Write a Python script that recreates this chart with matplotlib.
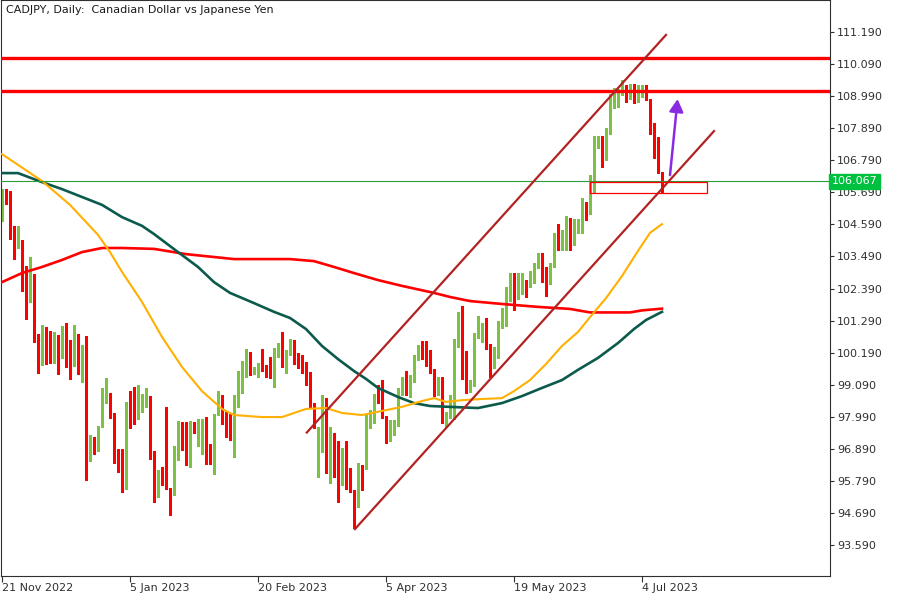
import matplotlib
matplotlib.use("Agg")
import matplotlib.pyplot as plt
from matplotlib.patches import Rectangle
import numpy as np

TITLE = "CADJPY, Daily:  Canadian Dollar vs Japanese Yen"

# daily candles, bar 0 = 21 Nov 2022
OPEN = [
    104.74, 105.65, 105.56, 104.49, 103.88, 103.91, 102.91, 102.09, 102.86, 100.76,
    99.80, 100.62, 100.34, 100.03, 100.49, 100.17, 100.93, 100.05, 99.94, 100.80,
    99.33, 100.28, 96.70, 97.27, 96.85, 97.70, 98.65, 98.77, 98.09, 96.43,
    96.19, 95.80, 98.39, 98.30, 97.96, 98.43, 98.43, 98.68, 96.76, 95.40,
    95.86, 95.69, 95.52, 95.35, 96.68, 97.74, 97.40, 96.71, 97.74, 97.37,
    97.40, 97.74, 97.02, 96.62, 98.09, 98.62, 97.79, 97.74, 97.74, 98.36,
    99.25, 99.77, 100.17, 99.50, 99.54, 99.79, 99.73, 99.56, 99.39, 100.26,
    100.31, 99.79, 100.14, 100.60, 99.99, 99.82, 99.71, 99.50, 98.43, 96.80,
    96.96, 98.22, 96.79, 97.33, 96.13, 96.02, 96.62, 95.73, 95.45, 94.91,
    96.30, 96.23, 97.97, 97.97, 98.77, 98.54, 97.99, 97.54, 97.65, 97.71,
    98.88, 99.28, 99.04, 99.37, 99.99, 100.40, 100.11, 100.11, 99.60, 98.91,
    99.12, 97.99, 97.99, 98.60, 100.45, 101.48, 100.22, 98.91, 99.08, 100.72,
    100.99, 101.03, 100.48, 99.73, 100.06, 101.08, 101.14, 102.28, 102.71, 102.09,
    102.57, 102.62, 102.51, 102.62, 103.14, 103.31, 102.80, 102.59, 103.16, 104.19,
    103.83, 103.99, 104.77, 103.97, 104.34, 104.34, 105.31, 105.08, 106.20, 107.36,
    107.46, 106.82, 107.72, 108.77, 108.80, 109.09, 109.18, 108.92, 109.22, 108.83,
    109.11, 109.11, 108.88, 107.94, 107.03, 106.36,
]
HIGH = [
    105.80, 105.80, 105.75, 104.55, 104.53, 104.05, 103.16, 103.48, 102.90, 100.83,
    101.14, 101.06, 100.93, 100.90, 100.80, 101.10, 101.20, 100.62, 101.14, 100.82,
    100.45, 100.76, 97.37, 97.30, 97.66, 98.97, 99.33, 98.80, 98.12, 96.88,
    96.88, 98.51, 98.88, 99.00, 99.08, 98.77, 98.97, 98.72, 96.80, 96.17,
    96.28, 98.31, 95.56, 97.00, 97.85, 97.82, 97.82, 97.85, 97.80, 97.91,
    97.91, 97.97, 97.05, 98.08, 98.88, 98.74, 98.17, 98.10, 98.74, 99.56,
    99.90, 100.31, 100.20, 99.71, 99.83, 100.31, 99.76, 100.05, 100.34, 100.53,
    100.89, 100.28, 100.65, 100.62, 100.17, 100.10, 99.88, 99.52, 98.45, 97.65,
    98.74, 98.62, 97.65, 97.45, 97.17, 96.91, 97.17, 96.22, 95.47, 96.41,
    96.32, 98.05, 98.22, 98.77, 99.08, 99.25, 98.01, 97.88, 97.88, 98.97,
    99.37, 99.57, 99.42, 100.11, 100.45, 100.60, 100.60, 100.28, 99.62, 99.37,
    99.35, 98.15, 98.74, 100.65, 101.60, 101.79, 100.25, 99.25, 100.86, 101.45,
    101.22, 101.37, 100.50, 100.40, 101.26, 101.71, 102.43, 102.93, 102.91, 102.91,
    102.91, 102.68, 102.99, 103.28, 103.60, 103.62, 103.14, 103.25, 104.28, 104.60,
    104.40, 104.88, 104.80, 104.77, 104.77, 105.49, 105.37, 106.30, 107.62, 107.62,
    107.62, 107.89, 109.06, 109.26, 109.22, 109.54, 109.37, 109.41, 109.41, 109.37,
    109.37, 109.37, 108.90, 108.06, 107.58, 106.40,
]
LOW = [
    104.70, 105.30, 104.09, 103.41, 103.79, 102.32, 101.35, 101.94, 100.57, 99.49,
    99.77, 99.80, 99.84, 99.84, 99.45, 99.99, 99.71, 99.29, 99.74, 99.45,
    99.17, 95.82, 96.49, 96.71, 96.80, 97.65, 98.48, 97.96, 96.42, 96.10,
    95.40, 95.50, 97.62, 97.74, 97.91, 98.17, 98.34, 96.54, 95.08, 95.25,
    95.65, 95.50, 94.62, 95.30, 96.51, 96.85, 96.34, 96.28, 97.45, 96.99,
    96.71, 96.37, 96.37, 96.03, 98.05, 97.75, 97.30, 97.20, 96.62, 98.33,
    98.82, 99.37, 99.42, 99.46, 99.37, 99.56, 99.37, 99.33, 99.02, 100.05,
    99.71, 99.50, 100.10, 99.80, 99.65, 99.48, 99.08, 98.34, 97.59, 95.94,
    96.79, 96.05, 95.73, 95.91, 95.06, 95.65, 95.50, 95.40, 94.16, 94.88,
    95.48, 96.20, 97.59, 97.76, 98.48, 97.95, 97.10, 97.17, 97.37, 97.68,
    98.74, 98.74, 98.68, 99.20, 99.94, 99.96, 99.73, 99.50, 98.70, 98.74,
    97.79, 97.65, 97.94, 97.93, 100.40, 99.27, 98.80, 98.85, 99.05, 100.70,
    100.57, 100.31, 99.37, 99.65, 100.00, 101.03, 101.10, 101.97, 101.65, 102.03,
    102.20, 102.11, 102.45, 102.58, 103.09, 102.62, 102.13, 102.55, 103.12, 103.71,
    103.71, 103.71, 103.71, 103.88, 104.31, 104.30, 104.74, 104.95, 105.70, 107.20,
    106.55, 106.80, 107.70, 108.57, 108.63, 109.03, 108.80, 108.90, 108.77, 108.80,
    108.97, 108.85, 107.69, 106.86, 106.34, 105.66,
]
CLOSE = [
    105.67, 105.55, 104.49, 103.91, 103.93, 102.91, 102.11, 102.89, 100.74, 99.64,
    100.62, 100.34, 100.03, 100.57, 100.03, 100.93, 100.05, 99.98, 100.83, 99.79,
    100.45, 96.70, 97.31, 96.93, 97.65, 98.70, 98.84, 98.13, 96.74, 96.15,
    95.80, 98.42, 98.25, 98.20, 98.45, 98.47, 98.70, 96.71, 95.40, 95.86,
    95.69, 95.52, 95.35, 96.82, 97.79, 97.17, 96.71, 97.79, 97.51, 97.44,
    97.74, 96.96, 96.64, 97.88, 98.62, 97.79, 97.71, 97.70, 98.43, 99.31,
    99.79, 100.15, 99.50, 99.57, 99.79, 99.71, 99.54, 99.37, 100.28, 100.36,
    99.82, 100.22, 100.60, 99.85, 99.80, 99.73, 99.46, 98.38, 97.67, 97.02,
    98.34, 96.79, 97.33, 96.02, 96.02, 96.62, 95.65, 95.42, 95.11, 96.30,
    96.25, 97.99, 98.13, 98.22, 98.51, 97.97, 97.54, 97.67, 97.79, 98.91,
    99.28, 99.04, 99.37, 100.07, 100.42, 100.14, 100.08, 99.57, 98.99, 99.14,
    98.13, 98.13, 98.65, 100.63, 101.48, 100.22, 98.91, 99.08, 100.80, 101.03,
    101.03, 100.48, 99.73, 100.11, 101.08, 101.20, 102.36, 102.71, 102.15, 102.62,
    102.62, 102.55, 102.66, 103.23, 103.34, 102.74, 102.62, 103.20, 104.19, 103.77,
    104.17, 104.80, 104.15, 104.43, 104.46, 105.34, 105.08, 106.28, 107.46, 107.50,
    106.82, 107.77, 108.86, 109.03, 109.09, 109.18, 108.95, 109.20, 108.80, 109.18,
    109.22, 108.88, 107.74, 106.97, 106.36, 106.07,
]

DATE_TICKS = [0, 32, 64, 96, 128, 160]
DATE_LABELS = ["21 Nov 2022", "5 Jan 2023", "20 Feb 2023", "5 Apr 2023", "19 May 2023", "4 Jul 2023"]
PRICE_TICKS = [111.19, 110.09, 108.99, 107.89, 106.79, 105.69, 104.59, 103.49, 102.39,
               101.29, 100.19, 99.09, 97.99, 96.89, 95.79, 94.69, 93.59]

# moving averages, read at a subset of bars
MA_FAST_BARS = [0, 10, 17, 24, 27, 30, 35, 40, 45, 50, 55, 58, 65, 70, 73, 76, 81, 85, 90,
                95, 100, 105, 108, 111, 115, 120, 125, 128, 132, 136, 140, 144, 147, 151,
                155, 159, 162, 165]
MA_FAST = [107.00, 106.08, 105.26, 104.23, 103.64, 102.96, 101.93, 100.73, 99.70, 98.87,
           98.26, 98.05, 97.98, 97.98, 98.12, 98.26, 98.29, 98.12, 98.05, 98.19, 98.33,
           98.53, 98.63, 98.50, 98.56, 98.60, 98.63, 98.87, 99.25, 99.80, 100.42, 100.90,
           101.41, 102.06, 102.82, 103.68, 104.30, 104.60]
MA_MID_BARS = [0, 4, 10, 15, 20, 25, 30, 35, 38, 44, 49, 53, 57, 63, 68, 72, 76, 80, 84, 88,
               91, 94, 99, 103, 107, 112, 119, 125, 130, 135, 140, 144, 149, 154, 158, 161, 165]
MA_MID = [106.35, 106.35, 106.04, 105.80, 105.53, 105.26, 104.84, 104.54, 104.26, 103.64,
          103.13, 102.61, 102.24, 101.89, 101.59, 101.38, 101.00, 100.42, 99.97, 99.56,
          99.29, 98.98, 98.67, 98.46, 98.36, 98.33, 98.29, 98.46, 98.70, 98.98, 99.25,
          99.60, 100.01, 100.52, 101.00, 101.31, 101.59]
MA_SLOW_BARS = [0, 5, 10, 15, 20, 25, 30, 38, 46, 58, 72, 78, 83, 88, 94, 100, 108, 112,
                117, 125, 134, 142, 147, 157, 160, 165]
MA_SLOW = [102.61, 102.92, 103.13, 103.37, 103.64, 103.78, 103.78, 103.75, 103.57, 103.40,
           103.40, 103.33, 103.13, 102.92, 102.68, 102.48, 102.24, 102.10, 101.96, 101.86,
           101.76, 101.69, 101.57, 101.57, 101.64, 101.70]

# drawn objects
RESISTANCE = [110.29, 109.17]
LAST_PRICE = 106.067
UPPER_BARS, UPPER_PRICES = [76.2, 166.0], [97.45, 111.09]
LOWER_BARS, LOWER_PRICES = [88.25, 178.0], [94.14, 107.79]
ZONE_BARS, ZONE_PRICES = [147.0, 176.2], [105.66, 106.06]
ARROW_BARS, ARROW_PRICES = [167.0, 168.9], [106.28, 108.89]

UP_COLOR = "#7cc142"
DOWN_COLOR = "#ff0000"
TEXT_COLOR = "#303030"

plt.rcParams["font.family"] = ["DejaVu Sans"]

fig = plt.figure(figsize=(9, 6), dpi=100)
fig.patch.set_facecolor("white")
ax = fig.add_axes([1 / 900, 24 / 600, 829 / 900, 576 / 600])

o = np.array(OPEN)
h = np.array(HIGH)
l = np.array(LOW)
c = np.array(CLOSE)
idx = np.arange(len(o))
colors = np.where(c >= o, UP_COLOR, DOWN_COLOR)

# wicks then bodies, drawn without antialiasing so they stay crisp like the terminal
ax.vlines(idx, l, h, colors=colors, linewidth=0.75, antialiased=False, zorder=2)
body = np.maximum(np.abs(c - o), 0.035)
ax.bar(idx, body, bottom=np.minimum(o, c), width=0.62, color=colors, linewidth=0,
       antialiased=False, zorder=2)

ax.plot(MA_SLOW_BARS, MA_SLOW, color="#ff0000", linewidth=1.9, zorder=3)
ax.plot(MA_MID_BARS, MA_MID, color="#0b5a4b", linewidth=1.9, zorder=3)
ax.plot(MA_FAST_BARS, MA_FAST, color="#ffb000", linewidth=1.5, zorder=3)

for level in RESISTANCE:
    ax.axhline(level, color="#ff0000", linewidth=2.4, zorder=4)
ax.axhline(LAST_PRICE, color="#2a9d3a", linewidth=0.8, zorder=4)

ax.plot(UPPER_BARS, UPPER_PRICES, color="#b22222", linewidth=1.6, zorder=4)
ax.plot(LOWER_BARS, LOWER_PRICES, color="#b22222", linewidth=1.6, zorder=4)

ax.add_patch(Rectangle((ZONE_BARS[0], ZONE_PRICES[0]), ZONE_BARS[1] - ZONE_BARS[0],
                       ZONE_PRICES[1] - ZONE_PRICES[0], fill=False,
                       edgecolor="#ff0000", linewidth=0.9, zorder=4))

ax.annotate("", xy=(ARROW_BARS[1], ARROW_PRICES[1]), xytext=(ARROW_BARS[0], ARROW_PRICES[0]),
            arrowprops=dict(arrowstyle="-|>,head_length=0.5,head_width=0.28",
                            mutation_scale=15, color="#8a2be2", linewidth=1.8,
                            shrinkA=0, shrinkB=0), zorder=5)

ax.set_xlim(-0.25, 207)
ax.set_ylim(92.528, 112.288)

ax.set_xticks(DATE_TICKS)
ax.set_xticklabels(DATE_LABELS, ha="left")
ax.yaxis.tick_right()
ax.set_yticks(PRICE_TICKS)
ax.set_yticklabels([f"{p:.3f}" for p in PRICE_TICKS])
ax.tick_params(axis="both", direction="out", length=3, width=0.8, color=TEXT_COLOR,
               labelcolor=TEXT_COLOR, labelsize=8, pad=2)
ax.tick_params(axis="x", length=4, pad=1)
for spine in ax.spines.values():
    spine.set_color(TEXT_COLOR)
    spine.set_linewidth(0.8)

ax.text(0.006, 0.992, TITLE, transform=ax.transAxes, ha="left", va="top",
        fontsize=8, color="#1a1a1a")

ax.text(1.002, LAST_PRICE, f"{LAST_PRICE:.3f}", transform=ax.get_yaxis_transform(),
        ha="left", va="center", fontsize=8, color="white", zorder=6,
        bbox=dict(boxstyle="square,pad=0.22", facecolor="#00c040", edgecolor="#00c040"),
        clip_on=False)

fig.savefig("out.png", dpi=100, facecolor="white")
